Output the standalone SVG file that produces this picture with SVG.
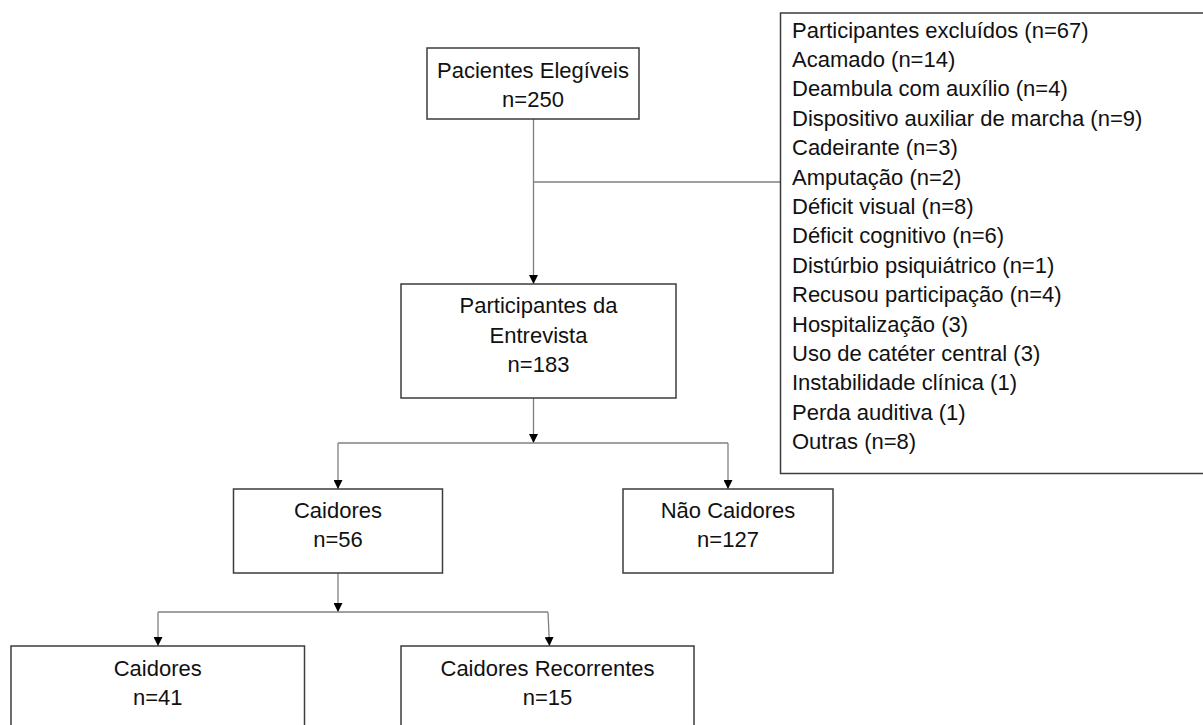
<svg xmlns="http://www.w3.org/2000/svg" width="1203" height="725" viewBox="0 0 1203 725">
<style>
.box{fill:#fff;stroke:#3c3c3c;stroke-width:1.5}
.conn{fill:none;stroke:#808080;stroke-width:1.3}
text{font-family:"Liberation Sans",Arial,sans-serif;font-size:22px;fill:#111}
.c{text-anchor:middle}
</style>
<defs>
<marker id="arr" markerUnits="userSpaceOnUse" markerWidth="9" markerHeight="9" refX="9" refY="4.5" orient="auto">
<path d="M0,0 L9,4.5 L0,9 z" fill="#000"/>
</marker>
</defs>
<rect width="1203" height="725" fill="#fff"/>
<g id="connectors">
<path class="conn" d="M533.5 119 V284" marker-end="url(#arr)"/>
<path class="conn" d="M533.5 182 H780"/>
<path class="conn" d="M533.5 398 V443" marker-end="url(#arr)"/>
<path class="conn" d="M338 443 H728"/>
<path class="conn" d="M338 443 V489" marker-end="url(#arr)"/>
<path class="conn" d="M728 443 V489" marker-end="url(#arr)"/>
<path class="conn" d="M338 573 V612" marker-end="url(#arr)"/>
<path class="conn" d="M158 612 H548"/>
<path class="conn" d="M158 612 V646" marker-end="url(#arr)"/>
<path class="conn" d="M548 612 L549.5 646" marker-end="url(#arr)"/>
</g>
<g id="n_elegiveis">
<rect class="box" x="427" y="48" width="212" height="71"/>
<text class="c" x="533" y="78">Pacientes Elegíveis</text>
<text class="c" x="533" y="107">n=250</text>
</g>
<g id="n_excluidos">
<rect class="box" x="780.5" y="13" width="440" height="460.5"/>
<text x="792" y="37.5">Participantes excluídos (n=67)</text>
<text x="792" y="66.9">Acamado (n=14)</text>
<text x="792" y="96.3">Deambula com auxílio (n=4)</text>
<text x="792" y="125.7">Dispositivo auxiliar de marcha (n=9)</text>
<text x="792" y="155.1">Cadeirante (n=3)</text>
<text x="792" y="184.5">Amputação (n=2)</text>
<text x="792" y="213.9">Déficit visual (n=8)</text>
<text x="792" y="243.3">Déficit cognitivo (n=6)</text>
<text x="792" y="272.7">Distúrbio psiquiátrico (n=1)</text>
<text x="792" y="302.1">Recusou participação (n=4)</text>
<text x="792" y="331.5">Hospitalização (3)</text>
<text x="792" y="360.9">Uso de catéter central (3)</text>
<text x="792" y="390.3">Instabilidade clínica (1)</text>
<text x="792" y="419.7">Perda auditiva (1)</text>
<text x="792" y="449.1">Outras (n=8)</text>
</g>
<g id="n_entrevista">
<rect class="box" x="401" y="284" width="275" height="114"/>
<text class="c" x="538.5" y="313">Participantes da</text>
<text class="c" x="538.5" y="342.5">Entrevista</text>
<text class="c" x="538.5" y="372">n=183</text>
</g>
<g id="n_caidores">
<rect class="box" x="233.5" y="489" width="209" height="84"/>
<text class="c" x="338" y="518">Caidores</text>
<text class="c" x="338" y="547">n=56</text>
</g>
<g id="n_naocaidores">
<rect class="box" x="623" y="489" width="210" height="84"/>
<text class="c" x="728" y="518">Não Caidores</text>
<text class="c" x="728" y="547">n=127</text>
</g>
<g id="n_caidores2">
<rect class="box" x="11" y="646" width="293.5" height="100"/>
<text class="c" x="157.7" y="675.5">Caidores</text>
<text class="c" x="157.7" y="705">n=41</text>
</g>
<g id="n_recorrentes">
<rect class="box" x="401" y="646" width="293" height="100"/>
<text class="c" x="547.5" y="675.5">Caidores Recorrentes</text>
<text class="c" x="547.5" y="705">n=15</text>
</g>
</svg>
